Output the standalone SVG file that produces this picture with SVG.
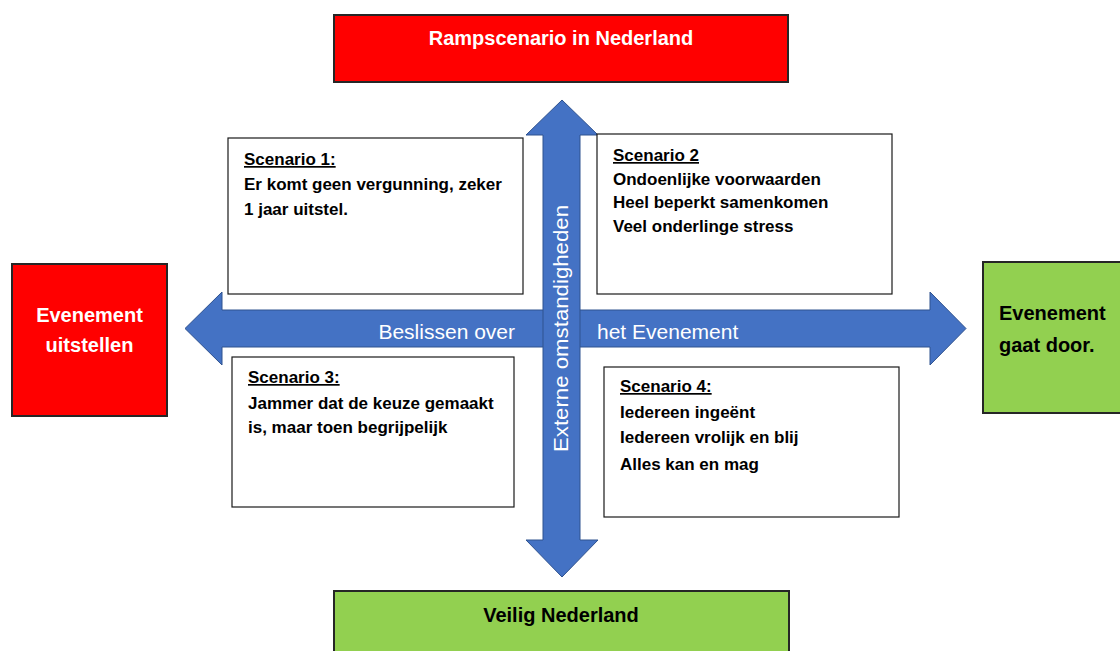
<svg xmlns="http://www.w3.org/2000/svg" width="1120" height="651" viewBox="0 0 1120 651">
  <style>
    .bg { fill: #ffffff; }
    .red { fill: #FF0000; stroke: #262626; stroke-width: 2; }
    .green { fill: #92D050; stroke: #262626; stroke-width: 2; }
    .scen { fill: #ffffff; stroke: #1a1a1a; stroke-width: 1.2; }
    .arrow { fill: #4472C4; stroke: #2F528F; stroke-width: 1; }
    .t { font-family: "Liberation Sans", Arial, sans-serif; }
    .head-w { font-size: 20px; font-weight: bold; fill: #ffffff; }
    .head-b { font-size: 20px; font-weight: bold; fill: #000000; }
    .sc { font-size: 17px; font-weight: bold; fill: #000000; }
    .ul { text-decoration: underline; }
    .axis { font-size: 21px; fill: #ffffff; }
  </style>
  <rect class="bg" x="0" y="0" width="1120" height="651"/>

  <g id="connectors">
    <path id="axis-horizontal" class="arrow" d="M185,328.5 L222,292 L222,310 L930,310 L930,292 L966,328.5 L930,365 L930,347 L222,347 L222,365 Z"/>
    <path id="axis-vertical" class="arrow" d="M562,100 L598,135 L580,135 L580,540 L598,540 L562,577 L526,540 L543,540 L543,135 L526,135 Z"/>
    <text class="t axis" x="515" y="339" text-anchor="end">Beslissen over</text>
    <text class="t axis" x="597" y="339">het Evenement</text>
    <text class="t axis" transform="translate(568,328.5) rotate(-90)" text-anchor="middle" textLength="247" lengthAdjust="spacingAndGlyphs">Externe omstandigheden</text>
  </g>

  <g id="node-ramp">
    <rect class="red" x="334" y="15" width="454" height="67"/>
    <text class="t head-w" x="561" y="45" text-anchor="middle">Rampscenario in Nederland</text>
  </g>

  <g id="node-veilig">
    <rect class="green" x="334" y="591" width="455" height="70"/>
    <text class="t head-b" x="561" y="622" text-anchor="middle">Veilig Nederland</text>
  </g>

  <g id="node-uitstellen">
    <rect class="red" x="12" y="264" width="155" height="152"/>
    <text class="t head-w" x="89.5" y="322" text-anchor="middle">Evenement</text>
    <text class="t head-w" x="89.5" y="352" text-anchor="middle">uitstellen</text>
  </g>

  <g id="node-door">
    <rect class="green" x="983" y="262" width="150" height="151"/>
    <text class="t head-b" x="999" y="320">Evenement</text>
    <text class="t head-b" x="999" y="352">gaat door.</text>
  </g>

  <g id="node-scenario1">
    <rect class="scen" x="228" y="138" width="295" height="156"/>
    <text class="t sc ul" x="244" y="165">Scenario 1:</text>
    <text class="t sc" x="244" y="190">Er komt geen vergunning, zeker</text>
    <text class="t sc" x="244" y="215">1 jaar uitstel.</text>
  </g>

  <g id="node-scenario2">
    <rect class="scen" x="597" y="134" width="295" height="160"/>
    <text class="t sc ul" x="613" y="161">Scenario 2</text>
    <text class="t sc" x="613" y="185">Ondoenlijke voorwaarden</text>
    <text class="t sc" x="613" y="208">Heel beperkt samenkomen</text>
    <text class="t sc" x="613" y="232">Veel onderlinge stress</text>
  </g>

  <g id="node-scenario3">
    <rect class="scen" x="232" y="357" width="282" height="150"/>
    <text class="t sc ul" x="248" y="383">Scenario 3:</text>
    <text class="t sc" x="248" y="409">Jammer dat de keuze gemaakt</text>
    <text class="t sc" x="248" y="433">is, maar toen begrijpelijk</text>
  </g>

  <g id="node-scenario4">
    <rect class="scen" x="604" y="367" width="295" height="150"/>
    <text class="t sc ul" x="620" y="392">Scenario 4:</text>
    <text class="t sc" x="620" y="418">Iedereen ingeënt</text>
    <text class="t sc" x="620" y="443">Iedereen vrolijk en blij</text>
    <text class="t sc" x="620" y="470">Alles kan en mag</text>
  </g>
</svg>
